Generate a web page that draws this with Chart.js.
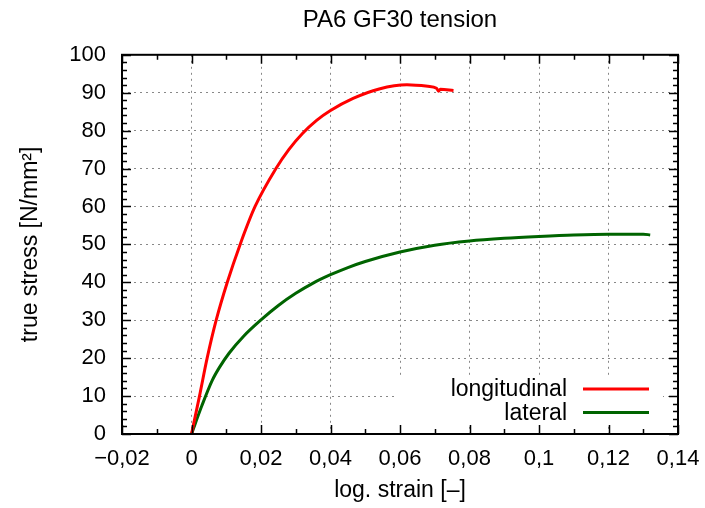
<!DOCTYPE html>
<html>
<head>
<meta charset="utf-8">
<script src="https://cdn.jsdelivr.net/npm/chart.js@4"></script>
<style>
  html, body { margin: 0; padding: 0; background: #fff; }
  #wrap { width: 705px; height: 508px; }
</style>
</head>
<body>
<div id="wrap"><canvas id="chart" width="705" height="508"></canvas></div>
<script>
// strain values and true stress
const longStrain = [0, 0.0023, 0.0045, 0.0071, 0.0103, 0.014, 0.0183, 0.0243, 0.028, 0.032, 0.036, 0.040, 0.0465, 0.054, 0.062, 0.068, 0.0705, 0.0711, 0.0716, 0.0754];
const longStress = [0, 10, 20, 30, 40, 50, 60, 70, 75, 79.3, 82.7, 85.3, 88.5, 91, 92.1, 91.7, 91.2, 90.4, 90.9, 90.6];
const latStrain = [0, 0.003, 0.006, 0.008, 0.0108, 0.015, 0.02, 0.025, 0.03, 0.035, 0.04, 0.045, 0.05, 0.06, 0.07, 0.08, 0.09, 0.1, 0.11, 0.12, 0.13, 0.132];
const latStress = [0, 7.5, 14.2, 17.5, 21.3, 25.8, 30.1, 33.9, 37.1, 39.8, 42.0, 43.9, 45.5, 48.0, 49.8, 50.9, 51.6, 52.1, 52.5, 52.7, 52.7, 52.5];
const xTicks = [-0.02, 0, 0.02, 0.04, 0.06, 0.08, 0.1, 0.12, 0.14];
const yTicks = [0, 10, 20, 30, 40, 50, 60, 70, 80, 90, 100];
const seriesNames = ['longitudinal', 'lateral'];
const seriesColors = ['#ff0000', '#006400'];

const FONT = 'Liberation Sans, Arial, sans-serif';

function fmt(v){
    let s = (Math.round(v*100)/100).toString().replace('.', ',');
    if (s.startsWith('-')) s = '\u2212' + s.slice(1);
    return s;
}

function toPoints(xs, ys){
    return xs.map((x, i) => ({x: x, y: ys[i]}));
}

// frame, inside tick marks (major + minor) and legend box
const gnuFrame = {
    id: 'gnuFrame',
    beforeDatasetsDraw(chart){
        // white box behind the legend hides the grid there
        const ctx = chart.ctx;
        ctx.save();
        ctx.fillStyle = '#fff';
        ctx.fillRect(397, 376, 266, 48);
        ctx.restore();
    },
    afterDatasetsDraw(chart){
        const ctx = chart.ctx;
        const a = chart.chartArea;
        const xs = chart.scales.x, ys = chart.scales.y;
        ctx.save();
        ctx.strokeStyle = '#000';
        ctx.lineWidth = 1.5;
        ctx.beginPath();
        for (let v = -0.02; v <= 0.1401; v += 0.01){
            const major = Math.abs(Math.round(v*100)) % 2 === 0;
            const len = major ? 9 : 5;
            const px = Math.round(xs.getPixelForValue(v)) + 0.5;
            ctx.moveTo(px, a.bottom); ctx.lineTo(px, a.bottom - len);
            ctx.moveTo(px, a.top); ctx.lineTo(px, a.top + len);
        }
        for (let v = 0; v <= 100; v += 2){
            const major = v % 10 === 0;
            const len = major ? 9 : 5;
            const py = Math.round(ys.getPixelForValue(v)) + 0.5;
            ctx.moveTo(a.left, py); ctx.lineTo(a.left + len, py);
            ctx.moveTo(a.right, py); ctx.lineTo(a.right - len, py);
        }
        ctx.stroke();
        ctx.lineWidth = 2;
        ctx.strokeRect(a.left, a.top, a.right - a.left, a.bottom - a.top);

        // legend, text left of the sample line
        ctx.font = '23px ' + FONT;
        ctx.textAlign = 'right';
        ctx.textBaseline = 'middle';
        const lx = 567, ly = 389, step = 23.5;
        chart.data.datasets.forEach((ds, i) => {
            const y = ly + i*step;
            ctx.fillStyle = '#000';
            ctx.fillText(ds.label, lx, y + 1);
            ctx.strokeStyle = ds.borderColor;
            ctx.lineWidth = 3;
            ctx.beginPath();
            ctx.moveTo(lx + 16, y); ctx.lineTo(lx + 82, y);
            ctx.stroke();
        });
        ctx.restore();
    }
};

const ctx = document.getElementById('chart').getContext('2d');
new Chart(ctx, {
    type: 'line',
    data: {
        datasets: [{
            label: seriesNames[0],
            data: toPoints(longStrain, longStress),
            borderColor: seriesColors[0],
            borderWidth: 3,
            pointRadius: 0,
            cubicInterpolationMode: 'monotone',
            fill: false
        }, {
            label: seriesNames[1],
            data: toPoints(latStrain, latStress),
            borderColor: seriesColors[1],
            borderWidth: 3,
            pointRadius: 0,
            cubicInterpolationMode: 'monotone',
            fill: false
        }]
    },
    options: {
        responsive: false,
        animation: false,
        layout: { padding: { left: 0, right: 27, top: 0, bottom: 0 } },
        plugins: {
            legend: { display: false },
            tooltip: { enabled: false },
            title: {
                display: true,
                fullSize: false,
                text: 'PA6 GF30 tension',
                color: '#000',
                font: { family: FONT, size: 24, weight: 'normal', lineHeight: 1.2 },
                padding: { top: 6, bottom: 20 }
            }
        },
        scales: {
            x: {
                type: 'linear',
                min: -0.02,
                max: 0.14,
                afterBuildTicks: s => { s.ticks = xTicks.map(v => ({value: v})); },
                afterFit: s => { s.height = 74; s.paddingRight = 0; },
                ticks: {
                    color: '#000',
                    font: { family: FONT, size: 22 },
                    padding: 12,
                    maxRotation: 0,
                    autoSkip: false,
                    callback: v => fmt(v)
                },
                grid: { color: '#888', lineWidth: 1, drawTicks: false },
                border: { display: false, dash: [2, 4] },
                title: {
                    display: true,
                    text: 'log. strain [\u2013]',
                    color: '#000',
                    font: { family: FONT, size: 23 },
                    padding: { top: 8 }
                }
            },
            y: {
                type: 'linear',
                min: 0,
                max: 100,
                afterBuildTicks: s => { s.ticks = yTicks.map(v => ({value: v})); },
                afterFit: s => { s.width = 122; },
                ticks: {
                    color: '#000',
                    font: { family: FONT, size: 22 },
                    padding: 16,
                    autoSkip: false
                },
                grid: { color: '#888', lineWidth: 1, drawTicks: false },
                border: { display: false, dash: [2, 4] },
                title: {
                    display: true,
                    text: 'true stress [N/mm\u00b2]',
                    color: '#000',
                    font: { family: FONT, size: 23 },
                    padding: { top: 17, bottom: 0 }
                }
            }
        }
    },
    plugins: [gnuFrame]
});
</script>
</body>
</html>
